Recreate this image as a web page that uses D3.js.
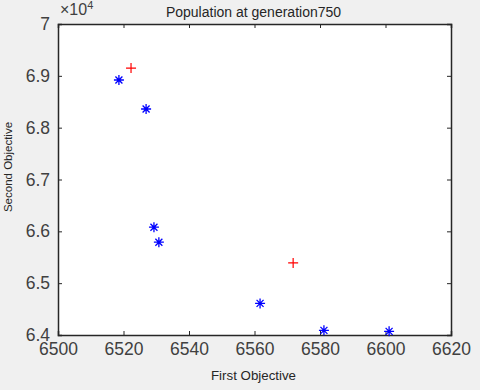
<!DOCTYPE html>
<html>
<head>
<meta charset="utf-8">
<script src="https://cdn.jsdelivr.net/npm/d3@7"></script>
<style>
  body { margin: 0; background: #f0f0f0; }
  svg { display: block; font-family: "Liberation Sans", Arial, sans-serif; }
</style>
</head>
<body>
<div id="graph"></div>
<script>
// population points (first objective, second objective / 1e4)
const blueX = [6518.6, 6526.9, 6529.3, 6530.8, 6561.7, 6581.2, 6601.1];
const blueY = [6.892, 6.836, 6.608, 6.579, 6.461, 6.409, 6.407];
const redX = [6522.3, 6571.8];
const redY = [6.915, 6.539];
const xTicks = [6500, 6520, 6540, 6560, 6580, 6600, 6620];
const yTicks = [6.4, 6.5, 6.6, 6.7, 6.8, 6.9, 7];

const dimension = {width: 393, height: 311, margin: {top: 24, left: 58}};
const W = 480, H = 390;

function axisX(dimension) {
  return d3.scaleLinear().domain([6500, 6620]).range([0, dimension.width]);
}

function axisY(dimension) {
  return d3.scaleLinear().domain([6.4, 7]).range([dimension.height, 0]);
}

function drawBox(context, axis, dimension) {
  const {width, height} = dimension;
  context.append("rect")
    .attr("width", width).attr("height", height)
    .attr("fill", "#fff");

  const fmt = d => String(d);
  const ax = [
    [d3.axisBottom(axis.x).tickValues(xTicks).tickSize(-4).tickPadding(8).tickFormat(fmt), `translate(0,${height})`],
    [d3.axisTop(axis.x).tickValues(xTicks).tickSize(-4).tickFormat(""), "translate(0,0)"],
    [d3.axisLeft(axis.y).tickValues(yTicks).tickSize(-4).tickPadding(8).tickFormat(fmt), "translate(0,0)"],
    [d3.axisRight(axis.y).tickValues(yTicks).tickSize(-4).tickFormat(""), `translate(${width},0)`]
  ];
  ax.forEach(([a, t]) => {
    const g = context.append("g").attr("transform", t).call(a);
    g.select(".domain").attr("stroke", "#262626").attr("stroke-width", 1.5);
    g.selectAll(".tick line").attr("stroke", "#262626");
    g.selectAll(".tick text")
      .attr("fill", "#404040")
      .style("font-size", "17.5px");
  });
}

function drawMarkers(context, axis) {
  const blue = d3.zip(blueX, blueY);
  const red = d3.zip(redX, redY);
  const r = 5;

  context.selectAll(".star").data(blue).enter().append("path")
    .attr("class", "star")
    .attr("transform", d => `translate(${axis.x(d[0])},${axis.y(d[1])})`)
    .attr("d", `M${-r},0H${r}M0,${-r}V${r}M${-r*0.7},${-r*0.7}L${r*0.7},${r*0.7}M${-r*0.7},${r*0.7}L${r*0.7},${-r*0.7}`)
    .attr("stroke", "#0000ff")
    .attr("stroke-width", 1.3)
    .attr("fill", "none");

  context.selectAll(".plus").data(red).enter().append("path")
    .attr("class", "plus")
    .attr("transform", d => `translate(${axis.x(d[0])},${axis.y(d[1])})`)
    .attr("d", `M${-r},0H${r}M0,${-r}V${r}`)
    .attr("stroke", "#ff0000")
    .attr("stroke-width", 1.2)
    .attr("fill", "none");
}

function drawLabels(context, dimension) {
  const {width, height} = dimension;

  context.append("text")
    .attr("x", width / 2 - 1)
    .attr("y", -7)
    .style("text-anchor", "middle")
    .style("font-size", "14px")
    .attr("fill", "#262626")
    .text("Population at generation750");

  context.append("text")
    .attr("x", width / 2 - 1)
    .attr("y", height + 45)
    .style("text-anchor", "middle")
    .style("font-size", "13.3px")
    .attr("fill", "#262626")
    .text("First Objective");

  context.append("text")
    .attr("transform", "rotate(-90)")
    .attr("x", -143)
    .attr("y", -46)
    .style("text-anchor", "middle")
    .style("font-size", "11.5px")
    .attr("fill", "#262626")
    .text("Second Objective");

  const exp = context.append("text")
    .attr("x", 2)
    .attr("y", -9)
    .style("font-size", "16px")
    .attr("fill", "#404040");
  exp.append("tspan").text("\u00d710");
  exp.append("tspan").attr("dy", -6).style("font-size", "11px").text("4");
}

const svg = d3.select("#graph").append("svg")
  .attr("width", W).attr("height", H);
const context = svg.append("g")
  .attr("transform", `translate(${dimension.margin.left},${dimension.margin.top})`);
const axis = {x: axisX(dimension), y: axisY(dimension)};

drawBox(context, axis, dimension);
drawMarkers(context, axis);
drawLabels(context, dimension);
</script>
</body>
</html>
